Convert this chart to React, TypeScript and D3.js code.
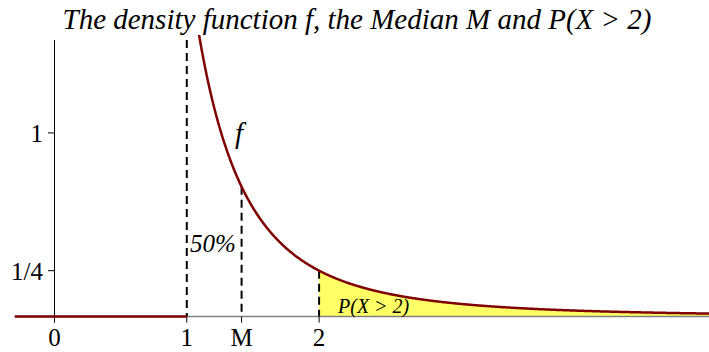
import React from "react";
import * as d3 from "d3";

// Density of X: f(x) = 2 / x^3 for x >= 1, zero otherwise
const densityCoef = [2];
const densityPower = [3];
const support = [1];
const xDomain = [-0.3, 5];
const yDomain = [0, 1.533];

// Tick values and their labels
const xTickValues = [0, 1, Math.SQRT2, 2];
const xTickLabels = ["0", "1", "M", "2"];
const yTickValues = [1, 0.25];
const yTickLabels = ["1", "1/4"];

const tailStart = [2];
const medianValue = [Math.SQRT2];

const W = 709;
const H = 352;

const f = (x: number) =>
  x < support[0] ? 0 : densityCoef[0] / Math.pow(x, densityPower[0]);

export default function App() {
  const x = d3.scaleLinear().domain(xDomain).range([14.8, 716]);
  const y = d3.scaleLinear().domain(yDomain).range([316.6, 35]);

  const y0 = y(0);
  const step = 0.005;
  const curvePts = d3.range(support[0], xDomain[1] + step, step).map((v) => [v, f(v)] as [number, number]);
  const zeroPts: [number, number][] = [
    [xDomain[0], 0],
    [support[0], 0],
  ];
  const tailPts = d3.range(tailStart[0], xDomain[1] + step, step).map((v) => [v, f(v)] as [number, number]);

  const line = d3
    .line<[number, number]>()
    .x((d) => x(d[0]))
    .y((d) => y(d[1]));
  const area = d3
    .area<[number, number]>()
    .x((d) => x(d[0]))
    .y0(y0)
    .y1((d) => y(d[1]));

  const serif = "'Liberation Serif', 'Times New Roman', serif";
  const dash = "8,5";
  const axisLeft = x(0);

  return (
    <svg
      width={W}
      height={H}
      style={{ position: "absolute", left: 0, top: 0, background: "#fff" }}
      fontFamily={serif}
    >
      <defs>
        <clipPath id="plotClip">
          <rect x={0} y={35} width={W} height={H - 35} />
        </clipPath>
      </defs>

      {/* P(X > 2) shaded tail */}
      <path d={area(tailPts) ?? ""} fill="#ffff66" stroke="none" clipPath="url(#plotClip)" />

      {/* x axis */}
      <line x1={x(xDomain[0])} x2={W} y1={y0} y2={y0} stroke="#808080" strokeWidth={1.5} />

      {/* y axis */}
      <line x1={axisLeft} x2={axisLeft} y1={40} y2={y0 + 6} stroke="#000" strokeWidth={1} />

      {/* y ticks */}
      {yTickValues.map((v, i) => (
        <g key={"yt" + i}>
          <line x1={axisLeft - 6.5} x2={axisLeft} y1={y(v)} y2={y(v)} stroke="#000" strokeWidth={1} />
          <text x={43} y={y(v) + 9} textAnchor="end" fontSize={25} fill="#000">
            {yTickLabels[i]}
          </text>
        </g>
      ))}

      {/* x ticks */}
      {xTickValues.map((v, i) => (
        <g key={"xt" + i}>
          <line x1={x(v)} x2={x(v)} y1={y0} y2={y0 + 6} stroke="#000" strokeWidth={1} />
          <text x={x(v)} y={346} textAnchor="middle" fontSize={25} fill="#000">
            {xTickLabels[i]}
          </text>
        </g>
      ))}

      {/* dashed guides at 1, M and 2 */}
      <line x1={x(support[0])} x2={x(support[0])} y1={40} y2={y0} stroke="#000" strokeWidth={2} strokeDasharray={dash} />
      <line x1={x(medianValue[0])} x2={x(medianValue[0])} y1={y(f(medianValue[0]))} y2={y0} stroke="#000" strokeWidth={2} strokeDasharray={dash} />
      <line x1={x(tailStart[0])} x2={x(tailStart[0])} y1={y(f(tailStart[0]))} y2={y0} stroke="#000" strokeWidth={2} strokeDasharray={dash} />

      {/* density curve */}
      <g clipPath="url(#plotClip)">
        <path d={line(zeroPts) ?? ""} fill="none" stroke="#800000" strokeWidth={2.5} />
        <path d={line(curvePts) ?? ""} fill="none" stroke="#800000" strokeWidth={2.5} />
      </g>

      {/* annotations */}
      <text x={235} y={143} fontSize={29} fontStyle="italic" fill="#000">
        f
      </text>
      <text x={190} y={252} fontSize={25} fontStyle="italic" fill="#000">
        50%
      </text>
      <text x={338} y={313} fontSize={20} fontStyle="italic" fill="#000">
        P(X &gt; 2)
      </text>

      {/* title */}
      <text x={357} y={29} textAnchor="middle" fontSize={29} fontStyle="italic" fill="#000">
        The density function f, the Median M and P(X &gt; 2)
      </text>
    </svg>
  );
}
